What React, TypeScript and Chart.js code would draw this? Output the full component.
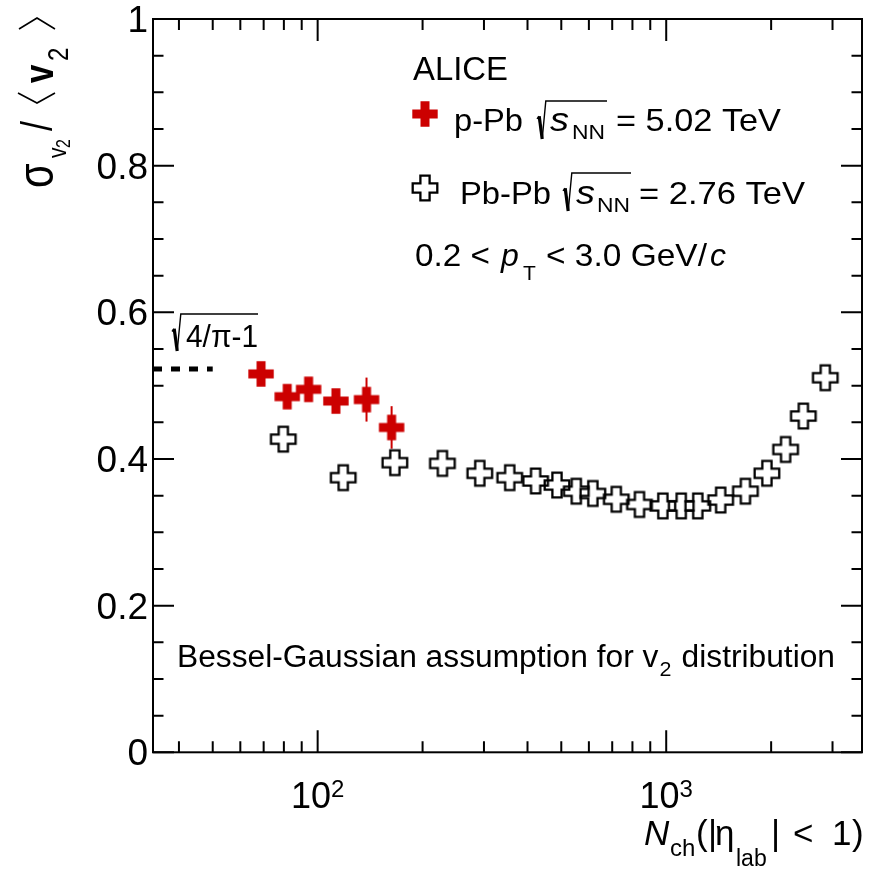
import React, { useEffect, useRef } from "react";
import { Chart, registerables } from "chart.js";

Chart.register(...registerables);

// ---- data ----
const pPbNch = [68.8, 81.8, 94.2, 112.8, 138.1, 163];
const pPbRatio = [0.516, 0.485, 0.495, 0.479, 0.481, 0.443];
const pPbErr = [0.012, 0.012, 0.012, 0.012, 0.03, 0.029];

const PbPbNch = [79.7, 118.4, 166.5, 228, 291.8, 355.6, 422, 486, 552, 616, 719, 838, 978, 1104, 1232, 1433, 1687, 1945, 2200, 2474, 2860];
const PbPbRatio = [0.427, 0.3745, 0.395, 0.394, 0.3805, 0.3745, 0.37, 0.3645, 0.356, 0.353, 0.345, 0.338, 0.336, 0.336, 0.336, 0.344, 0.356, 0.3805, 0.413, 0.4586, 0.5108];

const X_MIN = 33.7;
const X_MAX = 3645;
const limitNch = [X_MIN, 50];
const limitValue = Math.sqrt(4 / Math.PI - 1);

const xMajorTicks = [100, 1000];
const xMajorExp = ["2", "3"];
const xMinorTicks = [40, 50, 60, 70, 80, 90, 200, 300, 400, 500, 600, 700, 800, 900, 2000, 3000];
const yMajorTicks = [0, 0.2, 0.4, 0.6, 0.8, 1];
const yMajorLabels = ["0", "0.2", "0.4", "0.6", "0.8", "1"];
const yMinorTicks = [0.05, 0.1, 0.15, 0.25, 0.3, 0.35, 0.45, 0.5, 0.55, 0.65, 0.7, 0.75, 0.85, 0.9, 0.95];

const RED = "#cc0000";
const FAM = '"Liberation Sans", Arial, Helvetica, sans-serif';

function fnt(size: number, italic = false, bold = false) {
  return `${italic ? "italic " : ""}${bold ? "bold " : ""}${size}px ${FAM}`;
}

function txt(
  ctx: CanvasRenderingContext2D,
  s: string,
  x: number,
  y: number,
  size: number,
  o: { italic?: boolean; bold?: boolean; align?: CanvasTextAlign; w?: number } = {}
) {
  ctx.font = fnt(size, o.italic, o.bold);
  ctx.textAlign = o.align ?? "left";
  ctx.textBaseline = "alphabetic";
  if (o.w) {
    const m = ctx.measureText(s).width;
    ctx.save();
    ctx.translate(x, y);
    ctx.scale(o.w / m, 1);
    ctx.textAlign = "left";
    ctx.fillText(s, 0, 0);
    ctx.restore();
  } else {
    ctx.fillText(s, x, y);
  }
}

function radical(ctx: CanvasRenderingContext2D, x: number, top: number, bottom: number, endX: number) {
  const h = bottom - top;
  ctx.save();
  ctx.strokeStyle = "#000";
  ctx.lineCap = "butt";
  ctx.lineJoin = "miter";
  ctx.lineWidth = 1.5;
  ctx.beginPath();
  ctx.moveTo(x, top + h * 0.47);
  ctx.lineTo(x + 2.2, top + h * 0.4);
  ctx.stroke();
  ctx.lineWidth = 3.2;
  ctx.beginPath();
  ctx.moveTo(x + 2.2, top + h * 0.4);
  ctx.lineTo(x + 5.2, bottom);
  ctx.stroke();
  ctx.lineWidth = 1.4;
  ctx.beginPath();
  ctx.moveTo(x + 5.2, bottom);
  ctx.lineTo(x + 8.8, top);
  ctx.lineTo(endX, top);
  ctx.stroke();
  ctx.restore();
}

function makeCross(filled: boolean): HTMLCanvasElement {
  const S = 30;
  const c = document.createElement("canvas");
  c.width = S;
  c.height = S;
  const g = c.getContext("2d")!;
  const m = S / 2;
  const H = filled ? 12.7 : 12.3;
  const A = filled ? 4.5 : 4.6;
  g.beginPath();
  g.moveTo(m - A, m - H);
  g.lineTo(m + A, m - H);
  g.lineTo(m + A, m - A);
  g.lineTo(m + H, m - A);
  g.lineTo(m + H, m + A);
  g.lineTo(m + A, m + A);
  g.lineTo(m + A, m + H);
  g.lineTo(m - A, m + H);
  g.lineTo(m - A, m + A);
  g.lineTo(m - H, m + A);
  g.lineTo(m - H, m - A);
  g.lineTo(m - A, m - A);
  g.closePath();
  if (filled) {
    g.fillStyle = RED;
    g.fill();
  } else {
    g.lineWidth = 2.3;
    g.strokeStyle = "#000";
    g.stroke();
  }
  return c;
}

export default function App() {
  const ref = useRef<HTMLCanvasElement>(null);

  useEffect(() => {
    const redCross = makeCross(true);
    const openCross = makeCross(false);

    const errorBars = {
      id: "errorBars",
      beforeDatasetsDraw(chart: any) {
        const { ctx, scales } = chart;
        ctx.save();
        ctx.strokeStyle = RED;
        ctx.lineWidth = 2;
        pPbNch.forEach((n, i) => {
          const px = scales.x.getPixelForValue(n);
          ctx.beginPath();
          ctx.moveTo(px, scales.y.getPixelForValue(pPbRatio[i] - pPbErr[i]));
          ctx.lineTo(px, scales.y.getPixelForValue(pPbRatio[i] + pPbErr[i]));
          ctx.stroke();
        });
        ctx.restore();
      },
    };

    const decor = {
      id: "decor",
      afterDraw(chart: any) {
        const { ctx, chartArea: a, scales } = chart;
        const xs = scales.x;
        const ys = scales.y;
        ctx.save();
        ctx.fillStyle = "#000";
        ctx.strokeStyle = "#000";
        // frame
        ctx.lineWidth = 2;
        ctx.strokeRect(a.left, a.top, a.right - a.left, a.bottom - a.top);
        // x ticks
        const xt = (v: number, len: number) => {
          const px = xs.getPixelForValue(v);
          ctx.beginPath();
          ctx.moveTo(px, a.bottom);
          ctx.lineTo(px, a.bottom - len);
          ctx.moveTo(px, a.top);
          ctx.lineTo(px, a.top + len);
          ctx.stroke();
        };
        xMinorTicks.forEach((v) => xt(v, 11));
        xMajorTicks.forEach((v) => xt(v, 22));
        const yt = (v: number, len: number) => {
          const py = ys.getPixelForValue(v);
          ctx.beginPath();
          ctx.moveTo(a.left, py);
          ctx.lineTo(a.left + len, py);
          ctx.moveTo(a.right, py);
          ctx.lineTo(a.right - len, py);
          ctx.stroke();
        };
        yMinorTicks.forEach((v) => yt(v, 10.5));
        yMajorTicks.forEach((v) => yt(v, 21));

        // y tick labels
        yMajorTicks.forEach((v, i) => {
          const py = ys.getPixelForValue(v);
          txt(ctx, yMajorLabels[i], a.left - 5, py + 13, 37, { align: "right" });
        });
        // x tick labels 10^n
        xMajorTicks.forEach((v, i) => {
          const px = xs.getPixelForValue(v);
          ctx.font = fnt(36);
          const w1 = ctx.measureText("10").width;
          ctx.font = fnt(24);
          const w2 = ctx.measureText(xMajorExp[i]).width;
          const x0 = px - (w1 + w2) / 2;
          txt(ctx, "10", x0, 808, 36);
          txt(ctx, xMajorExp[i], x0 + w1, 797, 24);
        });

        // x title N_ch(|eta_lab| < 1)
        txt(ctx, "N", 644, 845, 35, { italic: true });
        txt(ctx, "ch", 670, 856, 24);
        txt(ctx, "(", 696, 845, 35);
        txt(ctx, "|", 708, 845, 35);
        txt(ctx, "η", 715, 845, 35);
        txt(ctx, "lab", 736, 866, 23);
        txt(ctx, "|", 771, 845, 35);
        txt(ctx, "<", 793, 845, 35);
        txt(ctx, "1", 832, 845, 35);
        txt(ctx, ")", 852, 845, 35);

        // y title  sigma_{v_2} / < v_2 >
        const rot = (s: string, py: number, bx: number, size: number, o: { italic?: boolean; bold?: boolean; sy?: number } = {}) => {
          ctx.save();
          ctx.translate(bx, py);
          ctx.rotate(-Math.PI / 2);
          ctx.scale(1, o.sy ?? 1.25);
          ctx.font = fnt(size, o.italic, o.bold);
          ctx.textAlign = "left";
          ctx.fillText(s, 0, 0);
          ctx.restore();
        };
        rot("σ", 188, 53, 40);
        rot("v", 158, 66, 21);
        rot("2", 148, 70, 16);
        rot("/", 131, 52, 36);
        rot("v", 83, 53, 33, { bold: true });
        rot("2", 61, 68, 24);
        ctx.lineWidth = 1.6;
        ctx.beginPath();
        ctx.moveTo(18, 93);
        ctx.lineTo(37, 103);
        ctx.lineTo(55, 93);
        ctx.moveTo(19, 29);
        ctx.lineTo(37, 18);
        ctx.lineTo(55, 29);
        ctx.stroke();

        // sqrt(4/pi - 1) label
        radical(ctx, 172, 314, 351, 258);
        txt(ctx, "4/π-1", 186, 347, 32, { w: 72 });

        // legend / annotations
        txt(ctx, "ALICE", 413, 80, 33, { w: 95 });
        ctx.drawImage(redCross, 425 - 15, 114 - 15);
        txt(ctx, "p-Pb", 454, 131, 32, { w: 69 });
        radical(ctx, 537, 101, 139, 607);
        txt(ctx, "s", 550, 131, 33, { italic: true, w: 19 });
        txt(ctx, "NN", 572, 139, 21, { w: 33 });
        txt(ctx, "= 5.02 TeV", 616, 131, 32, { w: 165 });

        ctx.drawImage(openCross, 425 - 15, 188 - 15);
        txt(ctx, "Pb-Pb", 460, 204, 32, { w: 91 });
        radical(ctx, 563, 173, 211, 631);
        txt(ctx, "s", 576, 204, 33, { italic: true, w: 19 });
        txt(ctx, "NN", 597, 212, 21, { w: 33 });
        txt(ctx, "= 2.76 TeV", 639, 204, 32, { w: 166 });

        txt(ctx, "0.2 <", 415, 266, 32, { w: 75 });
        txt(ctx, "p", 501, 266, 32, { italic: true });
        txt(ctx, "T", 523, 280, 21);
        txt(ctx, "< 3.0 GeV/", 546, 266, 32, { w: 161 });
        txt(ctx, "c", 710, 266, 32, { italic: true });

        // bottom note, fitted to reference width
        const part1 = "Bessel-Gaussian assumption for v";
        const part3 = "distribution";
        ctx.font = fnt(31);
        const w1 = ctx.measureText(part1).width;
        const w3 = ctx.measureText(part3).width;
        ctx.font = fnt(21);
        const w2 = ctx.measureText("2").width;
        const natural = w1 + 1 + w2 + 10 + w3;
        const k = 658 / natural;
        ctx.save();
        ctx.translate(177, 0);
        ctx.scale(k, 1);
        txt(ctx, part1, 0, 667, 31);
        txt(ctx, "2", w1 + 1, 676, 21);
        txt(ctx, part3, w1 + 1 + w2 + 10, 667, 31);
        ctx.restore();

        ctx.restore();
      },
    };

    const chart = new Chart(ref.current!, {
      type: "scatter",
      data: {
        datasets: [
          {
            data: limitNch.map((n) => ({ x: n, y: limitValue })),
            showLine: true,
            borderColor: "#000",
            borderWidth: 5,
            borderDash: [9, 9],
            borderCapStyle: "butt",
            pointRadius: 0,
            fill: false,
          } as any,
          {
            data: PbPbNch.map((n, i) => ({ x: n, y: PbPbRatio[i] })),
            pointStyle: openCross as any,
            pointRadius: 13,
            pointHoverRadius: 13,
          },
          {
            data: pPbNch.map((n, i) => ({ x: n, y: pPbRatio[i] })),
            pointStyle: redCross as any,
            pointRadius: 13,
            pointHoverRadius: 13,
          },
        ],
      },
      options: {
        responsive: false,
        animation: false,
        devicePixelRatio: 1,
        layout: { padding: { left: 153, right: 13.5, top: 19, bottom: 117.7 } },
        plugins: { legend: { display: false }, tooltip: { enabled: false } },
        events: [],
        scales: {
          x: { type: "logarithmic", min: X_MIN, max: X_MAX, display: false },
          y: { type: "linear", min: 0, max: 1, display: false },
        },
      },
      plugins: [errorBars, decor],
    });
    return () => chart.destroy();
  }, []);

  return (
    <div style={{ position: "absolute", left: 0, top: 0, width: 876, height: 870, background: "#fff" }}>
      <canvas ref={ref} width={876} height={870} style={{ display: "block" }} />
    </div>
  );
}
